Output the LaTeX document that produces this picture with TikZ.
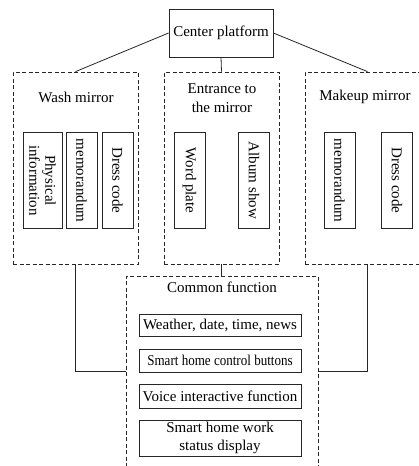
\documentclass[tikz,border=0pt]{standalone}
\usepackage{fontspec}
\setmainfont{Liberation Serif}
\usepackage{graphicx}
\tikzset{
  solidbox/.style={draw=black!85, line width=0.8pt, rectangle, inner sep=0pt, align=center, font=\fontsize{15}{17.5}\selectfont},
  groupbox/.style={draw=black!85, line width=0.8pt, dash pattern=on 4pt off 2.5pt, rectangle, inner sep=0pt},
  vbox/.style={solidbox, rotate=-90, minimum width=96pt, minimum height=31pt},
  lbl/.style={font=\fontsize{15}{18.5}\selectfont, align=center, inner sep=0pt},
  conn/.style={draw=black!85, line width=0.8pt},
}
\begin{document}
\begin{tikzpicture}[x=1pt,y=-1pt]
\useasboundingbox (0,0) rectangle (419,466);
\clip (0,0) rectangle (419,466);
% center
\node[solidbox, minimum width=104pt, minimum height=48pt] (center) at (221,33) {Center platform};
% groups
\node[groupbox, minimum width=125pt, minimum height=192pt] (wash) at (75.5,168) {};
\node[groupbox, minimum width=115pt, minimum height=192pt] (entr) at (221.5,168) {};
\node[groupbox, minimum width=125pt, minimum height=192pt] (make) at (367.5,168) {};
\node[groupbox, minimum width=192pt, minimum height=196pt] (common) at (222,374) {};
% titles
\node[lbl] (washt) at (76,97) {Wash mirror};
\node[lbl] (entrt) at (222,98) {Entrance to\\the mirror};
\node[lbl] (maket) at (365,97) {Makeup mirror};
\node[lbl] (commt) at (222,287) {Common function};
% vertical boxes
\node[vbox, minimum height=39pt, font=\fontsize{15}{16}\selectfont] (phys) at (42.5,180.5) {Physical\\information};
\node[vbox] (wmemo) at (81.5,180.5) {memorandum};
\node[vbox] (wdress) at (117.5,180.5) {Dress code};
\node[vbox] (word) at (189.5,180.5) {Word plate};
\node[vbox] (album) at (254,180.5) {Album show};
\node[vbox] (mmemo) at (339.5,180.5) {memorandum};
\node[vbox] (mdress) at (397,180.5) {Dress code};
% common items
\node[solidbox, minimum width=162pt, minimum height=22pt] (c1) at (220,325) {Weather, date, time, news};
\node[solidbox, minimum width=162pt, minimum height=23pt] (c2) at (220,360.5) {\scalebox{0.87}[1]{Smart home control buttons}};
\node[solidbox, minimum width=162pt, minimum height=24pt] (c3) at (220,396) {Voice interactive function};
\node[solidbox, minimum width=162pt, minimum height=36pt] (c4) at (220,438) {Smart home work\\status display};
% connectors
\coordinate (joinlevel) at (0,371);
\draw[conn] (center.west) -- (wash.north);
\draw[conn] (center.east) -- (make.north);
\draw[conn] (center.south) -- (entr.north);
\draw[conn] (entr.south) -- (entr.south |- common.north);
\draw[conn] (wash.south) |- (common.west |- joinlevel);
\draw[conn] (make.south) |- (common.east |- joinlevel);
\end{tikzpicture}
\end{document}
